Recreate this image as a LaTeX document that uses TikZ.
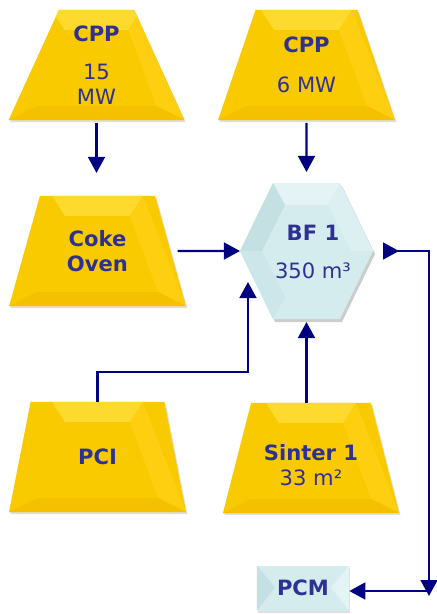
\documentclass[tikz,border=0pt]{standalone}
\usepackage{fontspec}
\setmainfont{DejaVu Sans}
\usetikzlibrary{shapes.geometric,arrows.meta,shadows}

\definecolor{gold}{HTML}{FACA00}
\definecolor{goldtop}{HTML}{FFDA2E}
\definecolor{goldlow}{HTML}{F4C000}
\definecolor{goldside}{HTML}{FDCF10}
\definecolor{ice}{HTML}{D4ECEE}
\definecolor{icetop}{HTML}{E4F3F4}
\definecolor{iceside}{HTML}{C4E0E3}
\definecolor{ink}{HTML}{2E3192}
\definecolor{navy}{HTML}{000080}

\begin{document}
\begin{tikzpicture}[x=0.025cm,y=-0.025cm,
    unit/.style={trapezium, trapezium angle=68.6, trapezium stretches=true,
      minimum width=4.425cm, minimum height=2.75cm, inner sep=0pt, outer sep=0pt,
      fill=gold, text=ink, align=center, font=\fontsize{15}{18}\selectfont,
      drop shadow={opacity=0.25,shadow xshift=1pt,shadow yshift=-1.5pt},
      path picture={
        \fill[goldtop] ([xshift=1.075cm]path picture bounding box.north west)
          -- ([xshift=-1.075cm]path picture bounding box.north east)
          -- ([xshift=-1.4cm,yshift=-0.5cm]path picture bounding box.north east)
          -- ([xshift=1.4cm,yshift=-0.5cm]path picture bounding box.north west) -- cycle;
        \fill[goldside] ([xshift=-1.075cm]path picture bounding box.north east)
          -- (path picture bounding box.south east)
          -- ([xshift=-0.7cm,yshift=0.35cm]path picture bounding box.south east)
          -- ([xshift=-1.4cm,yshift=-0.5cm]path picture bounding box.north east) -- cycle;
        \fill[goldlow] (path picture bounding box.south west)
          -- (path picture bounding box.south east)
          -- ([xshift=-0.7cm,yshift=0.35cm]path picture bounding box.south east)
          -- ([xshift=0.7cm,yshift=0.35cm]path picture bounding box.south west) -- cycle;
      }},
    stock/.style={rectangle, minimum width=2.3cm, minimum height=1.125cm, inner sep=0pt,
      fill=ice, text=ink, font=\fontsize{15}{18}\selectfont\bfseries,
      drop shadow={opacity=0.25,shadow xshift=1pt,shadow yshift=-1.5pt},
      path picture={
        \fill[iceside] (path picture bounding box.north west)
          -- ([xshift=0.45cm,yshift=-0.55cm]path picture bounding box.north west)
          -- (path picture bounding box.south west) -- cycle;
        \fill[icetop] (path picture bounding box.north east)
          -- ([xshift=-0.45cm,yshift=-0.55cm]path picture bounding box.north east)
          -- (path picture bounding box.south east) -- cycle;
      }},
    label/.style={text=ink, align=center, font=\fontsize{15}{18}\selectfont},
    flow/.style={navy, line width=1.6pt, -{Triangle[length=0.4cm,width=0.42cm]}}]

\useasboundingbox (0,0) rectangle (436,614);

% suppliers
\node[unit] (cppa) at (96.5,65) {\textbf{CPP}\\[9pt]15\\MW};
\node[unit] (cppb) at (306.5,65) {\textbf{CPP}\\[10pt]6 MW};
\node[unit] (coke) at (97.5,251) {\textbf{Coke}\\\textbf{Oven}};
\node[unit] (pci) at (97.5,457) {\textbf{PCI}};
\node[unit] (sinter) at (311,458) {\rule{0pt}{22pt}\textbf{Sinter 1}\\[0pt]33 m²};

% blast furnace
\fill[black,opacity=0.2] (242,254) -- (275,186) -- (342,186) -- (375,254) -- (342,322) -- (275,322) -- cycle;
\fill[ice] (240,251) -- (273,183) -- (340,183) -- (373,251) -- (340,319) -- (273,319) -- cycle;
\fill[icetop] (273,183) -- (340,183) -- (328,205) -- (285,205) -- cycle;
\fill[iceside] (240,251) -- (273,183) -- (285,205) -- (262,251) -- cycle;
\fill[iceside!50!ice] (240,251) -- (262,251) -- (285,297) -- (273,319) -- cycle;
\fill[icetop!50!ice] (373,251) -- (340,183) -- (328,205) -- (351,251) -- cycle;
\node[minimum width=3.325cm, minimum height=3.4cm, inner sep=0pt, outer sep=0pt] (bf) at (306.5,251) {};
\node[label] (bftext) at (313,252) {\textbf{BF 1}\\[9pt]350 m³};

% product
\node[stock] (pcm) at (303,588) {PCM};

% flows
\coordinate (bfin) at ([xshift=0.2cm,yshift=-0.775cm]bf.west);
\coordinate (drop) at (429,596);
\coordinate (turn) at (429,591);
\draw[flow, shorten <=2pt, shorten >=0.575cm] (cppa.south) -- (cppa.south |- coke.north);
\draw[flow, shorten <=2pt, shorten >=0.275cm] (cppb.south) -- (bf.north);
\draw[flow, shorten <=0.175cm] (coke.east) -- (bf.west);
\draw[flow] (pci.north) -- ++(0,-30) -| (bfin);
\draw[flow, shorten >=0.075cm] (bf.south |- sinter.north) -- (bf.south);
\draw[flow, {Triangle[reversed,length=0.4cm,width=0.42cm]}-{Triangle[length=0.4cm,width=0.42cm]}, shorten <=0.25cm] (bf.east) -| (drop);
\draw[flow] (turn) -- (turn -| pcm.east);

\end{tikzpicture}
\end{document}
